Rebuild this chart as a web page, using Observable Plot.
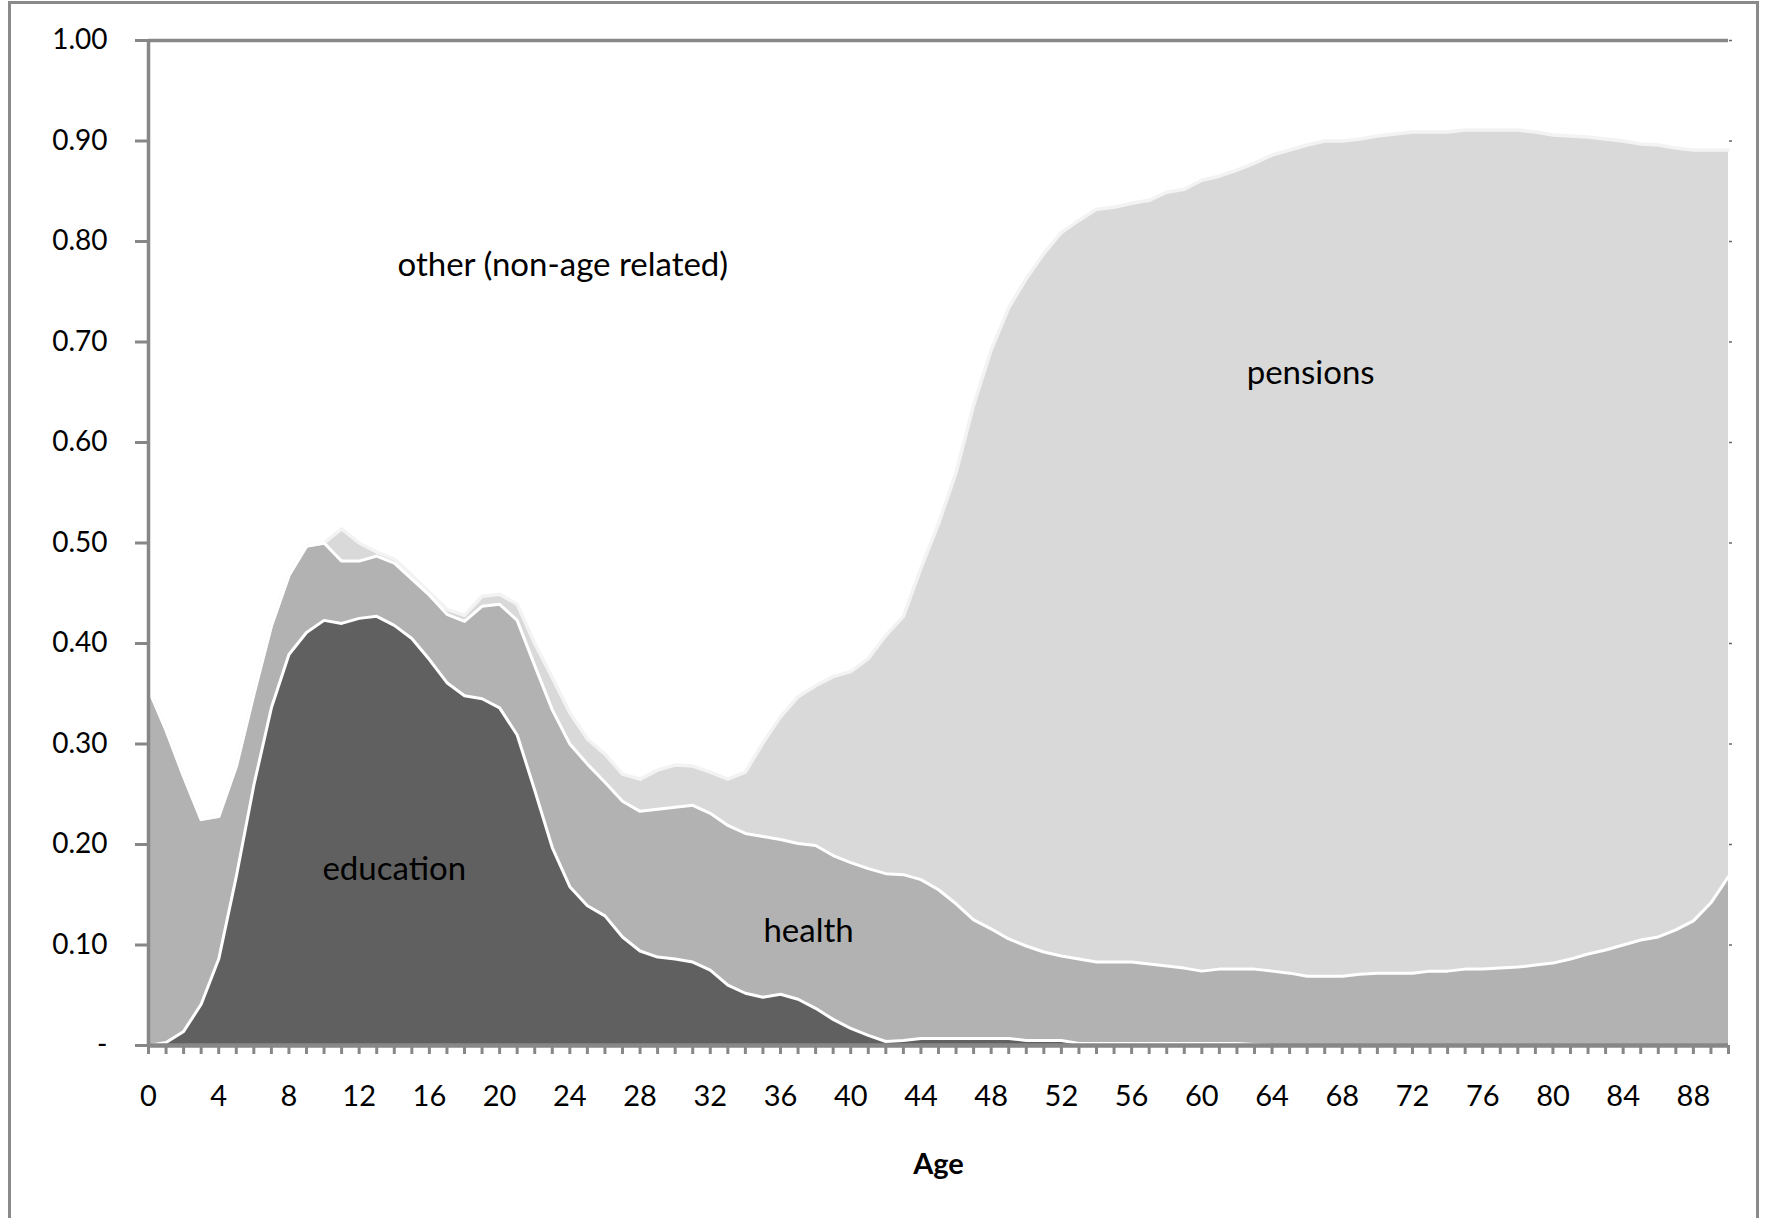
<!DOCTYPE html>
<html><head><meta charset="utf-8">
<script src="https://cdn.jsdelivr.net/npm/d3@7"></script>
<script src="https://cdn.jsdelivr.net/npm/@observablehq/plot@0.6"></script>
<style>
html,body{margin:0;padding:0;background:#fff;}
#wrap{position:relative;width:1767px;height:1218px;overflow:hidden;}
#frame{position:absolute;left:8px;top:1px;width:1751px;height:1400px;border:3px solid #8a8a8a;box-sizing:border-box;pointer-events:none;}
</style></head><body>
<div id="wrap"><div id="chart"></div><div id="frame"></div></div>
<script>
const ages = [0,1,2,3,4,5,6,7,8,9,10,11,12,13,14,15,16,17,18,19,20,21,22,23,24,25,26,27,28,29,30,31,32,33,34,35,36,37,38,39,40,41,42,43,44,45,46,47,48,49,50,51,52,53,54,55,56,57,58,59,60,61,62,63,64,65,66,67,68,69,70,71,72,73,74,75,76,77,78,79,80,81,82,83,84,85,86,87,88,89,90];
const education = [
  0.000,0.003,0.014,0.041,0.086,0.168,0.259,0.336,0.389,0.411,
  0.423,0.420,0.425,0.427,0.418,0.405,0.384,0.361,0.348,0.345,
  0.336,0.309,0.254,0.197,0.158,0.139,0.129,0.108,0.094,0.088,
  0.086,0.083,0.075,0.060,0.052,0.048,0.051,0.046,0.037,0.026,
  0.017,0.010,0.004,0.005,0.007,0.007,0.007,0.007,0.007,0.007,
  0.005,0.005,0.005,0.002,0.002,0.002,0.002,0.002,0.002,0.002,
  0.002,0.002,0.002,0.001,0,0,0,0,0,0,
  0,0,0,0,0,0,0,0,0,0,0,0,0,0,0,0,0,0,0,0,0];
const health = [
  0.355,0.311,0.254,0.184,0.142,0.110,0.091,0.082,0.079,0.086,
  0.077,0.062,0.057,0.060,0.062,0.059,0.064,0.068,0.074,0.092,
  0.103,0.114,0.124,0.137,0.142,0.141,0.133,0.135,0.139,0.147,
  0.151,0.156,0.156,0.159,0.159,0.160,0.154,0.155,0.162,0.163,
  0.165,0.166,0.167,0.165,0.158,0.148,0.134,0.118,0.109,0.099,
  0.094,0.088,0.084,0.084,0.081,0.081,0.081,0.079,0.077,0.075,
  0.072,0.074,0.074,0.075,0.074,0.072,0.069,0.069,0.069,0.071,
  0.072,0.072,0.072,0.074,0.074,0.076,0.076,0.077,0.078,0.080,
  0.082,0.086,0.091,0.095,0.100,0.105,0.108,0.115,0.124,0.142,0.168];
const pensions = [
  0,0,0,0,0,0,0,0,0,0,
  0,0.032,0.018,0.004,0.004,0.004,0.003,0.005,0.006,0.010,
  0.010,0.016,0.022,0.032,0.031,0.025,0.028,0.027,0.032,0.039,
  0.042,0.039,0.041,0.046,0.061,0.093,0.122,0.146,0.159,0.178,
  0.190,0.209,0.237,0.257,0.310,0.364,0.429,0.512,0.576,0.628,
  0.664,0.695,0.720,0.735,0.749,0.751,0.755,0.760,0.770,0.775,
  0.787,0.789,0.795,0.802,0.812,0.819,0.827,0.831,0.831,0.831,
  0.833,0.835,0.837,0.835,0.835,0.835,0.835,0.834,0.833,0.829,
  0.824,0.819,0.813,0.807,0.800,0.792,0.788,0.778,0.767,0.749,0.723];
const seriesNames = ["education","health","pensions"];
const yTicks = [0,0.1,0.2,0.3,0.4,0.5,0.6,0.7,0.8,0.9,1.0];
const labelTexts = ["other (non-age related)","pensions","education","health"];
const labelAge = [23.6,66.2,14.0,37.6];
const labelValue = [0.776,0.669,0.175,0.113];

// styles
const fills = ["#606060","#b2b2b2","#d9d9d9"];
const axisGray = "#878787";

const seriesValues = {education, health, pensions};
const rows = ages.flatMap((a,i) => seriesNames.map(s => ({age:a, series:s, value:seriesValues[s][i]})));
const eduTop = education.slice();
const healthTop = education.map((v,i) => v + health[i]);
const totalTop = healthTop.map((v,i) => v + pensions[i]);
const labels = labelTexts.map((t,i) => ({text:t, age:labelAge[i], value:labelValue[i]}));

const plot = Plot.plot({
  width: 1767, height: 1218,
  marginLeft: 148, marginRight: 39, marginTop: 40, marginBottom: 173,
  style: {fontFamily: "Lato, sans-serif", background: "transparent", overflow: "visible"},
  x: {domain: [0, 90]},
  y: {domain: [0, 1]},
  color: {domain: seriesNames, range: fills},
  marks: [
    Plot.areaY(rows, {x:"age", y:"value", z:"series", fill:"series", order: seriesNames, curve:"linear"}),
    Plot.lineY(ages, {x: d => d, y: (d,i) => totalTop[i], stroke:"#f3f3f3", strokeWidth:3.5}),
    Plot.lineY(ages, {x: d => d, y: (d,i) => healthTop[i], stroke:"white", strokeWidth:3}),
    Plot.lineY(ages, {x: d => d, y: (d,i) => eduTop[i], stroke:"white", strokeWidth:3}),
    Plot.text(labels, {x:"age", y:"value", text:"text", fontSize:33, fill:"black"}),
    Plot.axisY({ticks: yTicks, tickFormat: d => d < 1e-9 ? "-" : d.toFixed(2), tickSize: 13, tickPadding: 28, stroke: axisGray, strokeWidth: 3, fontSize: 28, fill: "black", label: null}),
    Plot.axisY({anchor: "right", ticks: yTicks.filter(v => v > 0), tickSize: 3, tickFormat: () => "", stroke: "#666", strokeWidth: 1.5, label: null}),
    Plot.axisX({ticks: ages, tickFormat: d => d % 4 === 0 ? String(d) : "", tickSize: 9, tickPadding: 31, stroke: axisGray, strokeWidth: 3, fontSize: 29, fill: "black", label: null}),
    Plot.ruleX([0], {stroke: axisGray, strokeWidth: 3.5}),
    Plot.ruleY([1], {stroke: axisGray, strokeWidth: 3.5}),
    Plot.ruleY([0], {stroke: axisGray, strokeWidth: 4.5}),
    Plot.text(["Age"], {frameAnchor: "bottom", dy: 128, text: d => d, fontWeight: "bold", fontSize: 29, fill: "black"})
  ]
});
document.getElementById("chart").appendChild(plot);
</script>
</body></html>
